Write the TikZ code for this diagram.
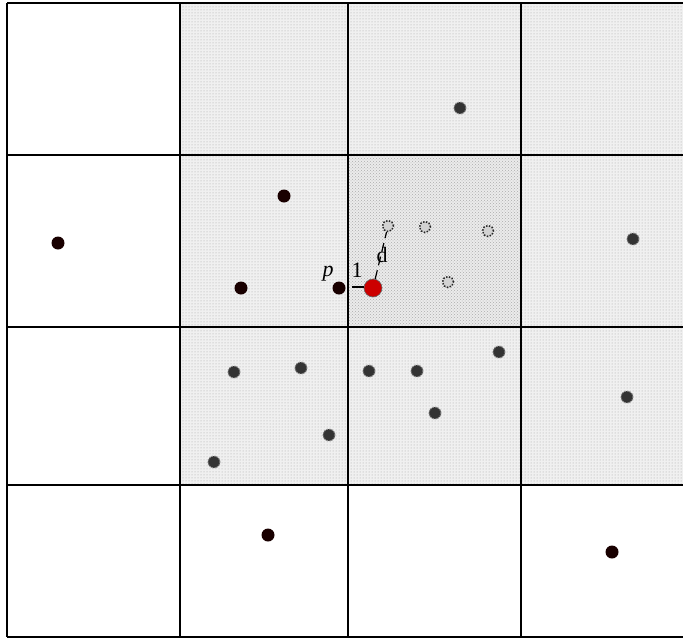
\documentclass[tikz,border=0pt]{standalone}
\usepackage{fontspec}
\setmainfont{Liberation Serif}
\usetikzlibrary{patterns}
\tikzset{
  gridline/.style={line width=1.3pt,black},
  nbline/.style={line width=2pt,black},
  nbcell/.style={fill=gray!12},
  nbdots/.style={pattern=dots,pattern color=gray!70},
  ctcell/.style={fill=gray!16},
  ctdots/.style={pattern=crosshatch dots,pattern color=gray!65},
  solidpt/.style={circle,fill=black!90!red,inner sep=0pt,minimum size=13pt},
  hatchpt/.style={circle,fill=black!80,draw=black!45,line width=1pt,dash pattern=on 1.3pt off 1.3pt,inner sep=0pt,minimum size=12pt},
  ctpt/.style={circle,fill=gray!35,draw=black!85,line width=1.5pt,dash pattern=on 1.5pt off 1.5pt,inner sep=0pt,minimum size=11pt},
  redpt/.style={circle,fill=red!80!black,draw=black!60,line width=0.6pt,inner sep=0pt,minimum size=18pt},
  lbl/.style={font=\fontsize{22}{22}\selectfont,inner sep=0pt}
}
\begin{document}
\begin{tikzpicture}[x=1pt,y=-1pt]
\useasboundingbox (0,0) rectangle (683,640);
\fill[white] (0,0) rectangle (683,640);
% neighbourhood cells
\foreach \xa/\xb in {180/348,348/521,521/683}{
  \foreach \ya/\yb in {3/155,155/327,327/485}{
    \path[nbcell] (\xa,\ya) rectangle (\xb,\yb);
    \path[nbdots] (\xa,\ya) rectangle (\xb,\yb);
  }
}
\path[ctcell] (348,155) rectangle (521,327);
\path[ctdots] (348,155) rectangle (521,327);
% grid
\foreach \y in {3,155,327,485,637}{\draw[gridline] (7,\y) -- (683,\y);}
\foreach \x in {7,180,348,521}{\draw[gridline] (\x,3) -- (\x,637);}
\draw[nbline] (683,3) -- (180,3) -- (180,485) -- (683,485);
\draw[nbline] (348,3) -- (348,485);
\draw[nbline] (521,3) -- (521,485);
\draw[nbline] (180,155) -- (683,155);
\draw[nbline] (180,327) -- (683,327);
\draw[line width=2.5pt] (348,155) rectangle (521,327);
% solid points
\node[solidpt] (s1) at (58,243) {};
\node[solidpt] (s2) at (284,196) {};
\node[solidpt] (s3) at (241,288) {};
\node[solidpt] (p) at (339,288) {};
\node[solidpt] (s4) at (268,535) {};
\node[solidpt] (s5) at (612,552) {};
% neighbourhood points
\node[hatchpt] (h1) at (460,108) {};
\node[hatchpt] (h2) at (633,239) {};
\node[hatchpt] (h3) at (234,372) {};
\node[hatchpt] (h4) at (301,368) {};
\node[hatchpt] (h5) at (329,435) {};
\node[hatchpt] (h6) at (214,462) {};
\node[hatchpt] (h7) at (369,371) {};
\node[hatchpt] (h8) at (417,371) {};
\node[hatchpt] (h9) at (435,413) {};
\node[hatchpt] (h10) at (499,352) {};
\node[hatchpt] (h11) at (627,397) {};
% centre cell points
\node[ctpt] (c1) at (388,226) {};
\node[ctpt] (c2) at (425,227) {};
\node[ctpt] (c3) at (488,231) {};
\node[ctpt] (c4) at (448,282) {};
% query point
\node[redpt] (q) at (373,288) {};
\draw[line width=1.2pt] ([xshift=6pt,yshift=1pt]p.east) -- ([yshift=1pt]q.west);
\draw[line width=1.2pt,dash pattern=on 9pt off 5pt] (q) -- (c1);
\node[lbl] (l1) at (357,270) {1};
\node[lbl] (ld) at (382,255) {d};
\node[lbl] (lp) at (328,274) {\itshape p};
\end{tikzpicture}
\end{document}
